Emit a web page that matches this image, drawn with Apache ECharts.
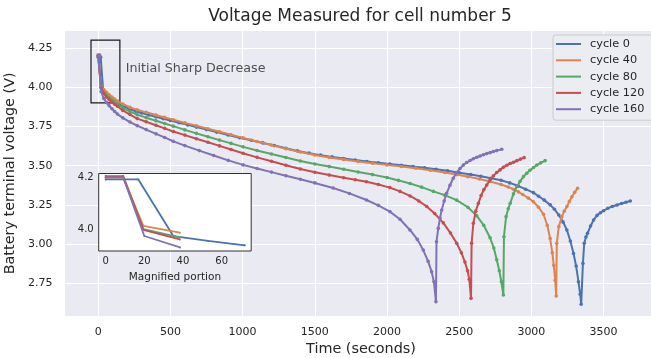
<!DOCTYPE html>
<html><head><meta charset="utf-8">
<script src="https://cdn.jsdelivr.net/npm/echarts@6/dist/echarts.min.js"></script>
<style>html,body{margin:0;padding:0;background:#fff}#c{width:651px;height:358px}</style>
</head><body><div id="c"></div>
<script>
const FONT = 'DejaVu Sans';
const TEXT = '#262626';

const seriesNames = ['cycle 0', 'cycle 40', 'cycle 80', 'cycle 120', 'cycle 160'];
const colors = ['#4C72B0', '#DD8452', '#55A868', '#C44E52', '#8172B3'];

// cycle 0
const t0 = [0, 16.9, 35, 53, 72, 90, 109, 128, 150, 180, 220, 260, 300, 350, 400, 450, 500, 560, 620, 680, 750, 820, 900, 980, 1060, 1140, 1220, 1300, 1380, 1460, 1540, 1620, 1700, 1780, 1860, 1940, 2020, 2100, 2180, 2260, 2340, 2420, 2500, 2580, 2650, 2720, 2790, 2850, 2910, 2960, 3014, 3050, 3090, 3130, 3160, 3190, 3220, 3246, 3270, 3292, 3310, 3326, 3338, 3345, 3357, 3366, 3378, 3389, 3410, 3431, 3455, 3478, 3500, 3530, 3560, 3593, 3625, 3655, 3685];
const v0 = [4.192, 4.192, 3.973, 3.954, 3.937, 3.924, 3.912, 3.901, 3.89, 3.876, 3.86, 3.847, 3.836, 3.823, 3.811, 3.799, 3.788, 3.774, 3.76, 3.746, 3.73, 3.714, 3.696, 3.678, 3.662, 3.645, 3.628, 3.611, 3.594, 3.58, 3.567, 3.556, 3.546, 3.536, 3.527, 3.518, 3.51, 3.502, 3.494, 3.486, 3.477, 3.467, 3.455, 3.443, 3.432, 3.42, 3.407, 3.39, 3.37, 3.35, 3.328, 3.305, 3.28, 3.25, 3.222, 3.185, 3.14, 3.09, 3.02, 2.94, 2.86, 2.76, 2.68, 2.616, 2.877, 3.005, 3.045, 3.069, 3.115, 3.154, 3.183, 3.2, 3.213, 3.228, 3.24, 3.249, 3.259, 3.267, 3.275];

// cycle 40
const t40 = [0, 9.1, 19.5, 38.4, 57, 76, 95, 114, 133, 170, 220, 270, 332, 400, 460, 520, 600, 680, 760, 840, 920, 1003, 1100, 1200, 1300, 1400, 1500, 1600, 1700, 1800, 1900, 2000, 2100, 2200, 2300, 2400, 2483, 2560, 2640, 2714, 2790, 2840, 2876, 2910, 2940, 2980, 3014, 3050, 3084, 3110, 3130, 3145, 3155, 3165, 3172, 3176, 3190, 3211, 3228, 3246, 3263, 3281, 3300, 3320];
const v40 = [4.20, 4.20, 4.012, 3.986, 3.968, 3.952, 3.937, 3.924, 3.912, 3.893, 3.872, 3.856, 3.84, 3.823, 3.808, 3.793, 3.773, 3.754, 3.735, 3.716, 3.697, 3.677, 3.654, 3.631, 3.608, 3.587, 3.568, 3.552, 3.539, 3.527, 3.516, 3.505, 3.495, 3.484, 3.471, 3.456, 3.443, 3.43, 3.415, 3.399, 3.38, 3.364, 3.35, 3.333, 3.316, 3.293, 3.27, 3.235, 3.19, 3.12, 3.035, 2.945, 2.865, 2.77, 2.669, 3.005, 3.111, 3.175, 3.21, 3.239, 3.272, 3.302, 3.33, 3.356];

// cycle 80
const t80 = [0, 9.1, 19.5, 38.4, 57, 76, 95, 114, 133, 170, 220, 270, 332, 400, 460, 520, 600, 680, 760, 840, 920, 1003, 1100, 1200, 1300, 1400, 1500, 1600, 1700, 1800, 1900, 2000, 2080, 2160, 2240, 2321, 2400, 2483, 2560, 2622, 2670, 2714, 2740, 2760, 2778, 2792, 2806, 2810, 2825, 2840, 2853, 2876, 2899, 2922, 2945, 2968, 2990, 3015, 3038, 3065, 3095];
const v80 = [4.20, 4.20, 4.0, 3.968, 3.948, 3.932, 3.918, 3.905, 3.893, 3.868, 3.845, 3.825, 3.806, 3.786, 3.769, 3.752, 3.728, 3.706, 3.684, 3.663, 3.642, 3.62, 3.597, 3.574, 3.552, 3.53, 3.511, 3.494, 3.477, 3.46, 3.443, 3.424, 3.406, 3.386, 3.363, 3.336, 3.312, 3.28, 3.235, 3.18, 3.12, 3.04, 2.975, 2.9, 2.83, 2.76, 2.675, 3.047, 3.175, 3.225, 3.26, 3.32, 3.366, 3.4, 3.43, 3.452, 3.47, 3.488, 3.504, 3.518, 3.532];

// cycle 120
const t120 = [0, 9.1, 19.5, 38.4, 57, 76, 95, 114, 133, 170, 220, 270, 332, 400, 460, 520, 600, 680, 760, 840, 920, 1003, 1100, 1200, 1300, 1400, 1500, 1600, 1700, 1780, 1858, 1940, 2020, 2090, 2160, 2220, 2275, 2330, 2390, 2440, 2483, 2515, 2540, 2558, 2570, 2582, 2586, 2598, 2615, 2633, 2652, 2671, 2691, 2714, 2737, 2760, 2783, 2806, 2830, 2853, 2876, 2900, 2925, 2950];
const v120 = [4.205, 4.205, 3.997, 3.96, 3.938, 3.92, 3.905, 3.892, 3.879, 3.852, 3.826, 3.8, 3.78, 3.758, 3.738, 3.718, 3.695, 3.672, 3.649, 3.626, 3.603, 3.579, 3.553, 3.528, 3.503, 3.479, 3.458, 3.44, 3.423, 3.41, 3.397, 3.38, 3.36, 3.336, 3.307, 3.275, 3.24, 3.195, 3.135, 3.07, 3.005, 2.945, 2.885, 2.83, 2.775, 2.654, 3.005, 3.133, 3.21, 3.26, 3.31, 3.347, 3.377, 3.41, 3.435, 3.456, 3.473, 3.49, 3.503, 3.514, 3.522, 3.532, 3.542, 3.551];

// cycle 160
const t160 = [0, 9.1, 20, 38.5, 57, 76, 95, 114, 133, 170, 220, 270, 332, 400, 460, 520, 600, 700, 800, 900, 1003, 1100, 1200, 1300, 1400, 1500, 1627, 1740, 1858, 1940, 2020, 2090, 2159, 2210, 2251, 2285, 2309, 2325, 2339, 2343, 2355, 2367, 2379, 2396, 2413, 2436, 2459, 2483, 2506, 2529, 2552, 2575, 2598, 2622, 2645, 2668, 2691, 2714, 2737, 2760, 2795];
const v160 = [4.20, 4.20, 3.973, 3.929, 3.902, 3.882, 3.863, 3.845, 3.829, 3.805, 3.778, 3.755, 3.73, 3.703, 3.68, 3.655, 3.628, 3.596, 3.565, 3.534, 3.505, 3.482, 3.459, 3.436, 3.413, 3.39, 3.358, 3.323, 3.281, 3.247, 3.207, 3.158, 3.09, 3.03, 2.962, 2.89, 2.824, 2.76, 2.633, 3.015, 3.1, 3.165, 3.217, 3.275, 3.324, 3.375, 3.42, 3.456, 3.482, 3.504, 3.52, 3.533, 3.544, 3.554, 3.562, 3.57, 3.577, 3.583, 3.59, 3.596, 3.605];

// number of leading points shown in the magnified inset
const insetCounts = [5, 4, 4, 4, 4];

// tick labels
const xTicks = [0, 500, 1000, 1500, 2000, 2500, 3000, 3500];
const yTicks = [2.75, 3.00, 3.25, 3.50, 3.75, 4.00, 4.25];
const insetXTicks = [0, 20, 40, 60];
const insetYTicks = [4.0, 4.2];

// annotation
const annText = 'Initial Sharp Decrease';
const annAnchor = [190, 4.12];
const boxCorners = [[-50, 3.9], [150, 4.3]];

const allT = [t0, t40, t80, t120, t160];
const allV = [v0, v40, v80, v120, v160];
const pairs = (t, v) => t.map((x, i) => [x, v[i]]);
const near = (list, v, eps) => list.find(k => Math.abs(k - v) < eps);

const series = [];
seriesNames.forEach((name, i) => {
  series.push({
    name, type: 'line', xAxisIndex: 0, yAxisIndex: 0,
    data: pairs(allT[i], allV[i]),
    symbol: 'circle', symbolSize: 3.6, showSymbol: true, showAllSymbol: true,
    lineStyle: {width: 2, color: colors[i]},
    itemStyle: {color: colors[i]},
    z: 2 + i * 0.01
  });
});
series.push({
  type: 'scatter', xAxisIndex: 0, yAxisIndex: 0, silent: true,
  data: [annAnchor], symbolSize: 0,
  label: {show: true, position: 'right', distance: 0, formatter: annText,
    fontFamily: FONT, fontSize: 12.7, color: TEXT},
  markArea: {silent: true,
    itemStyle: {color: 'rgba(0,0,0,0)', borderColor: '#1a1a1a', borderWidth: 1.2},
    data: [[{coord: boxCorners[0]}, {coord: boxCorners[1]}]]},
  z: 1
});
seriesNames.forEach((name, i) => {
  const n = insetCounts[i];
  series.push({
    type: 'line', xAxisIndex: 1, yAxisIndex: 1, silent: true,
    data: pairs(allT[i].slice(0, n), allV[i].slice(0, n)),
    symbol: 'circle', symbolSize: 2, showSymbol: true,
    lineStyle: {width: 1.8, color: colors[i]},
    itemStyle: {color: colors[i]},
    z: 10 + i * 0.01
  });
});

const chart = echarts.init(document.getElementById('c'), null, {renderer: 'canvas', width: 651, height: 358});
chart.setOption({
  animation: false,
  backgroundColor: '#ffffff',
  textStyle: {fontFamily: FONT},
  title: {
    text: 'Voltage Measured for cell number 5',
    left: 360, top: 8.5, padding: 0, textAlign: 'center',
    textStyle: {fontFamily: FONT, fontSize: 17, fontWeight: 'normal', color: TEXT}
  },
  legend: {
    data: seriesNames, orient: 'vertical', left: 553, top: 35,
    icon: 'rect', itemWidth: 25, itemHeight: 2, itemGap: 4.3,
    padding: [3, 14, 5, 3],
    backgroundColor: '#ECECF3', borderColor: '#CCCCCC', borderWidth: 1, borderRadius: 3,
    textStyle: {fontFamily: FONT, fontSize: 11.3, color: TEXT, lineHeight: 12, padding: [0, 0, 0, 4]},
    z: 20
  },
  grid: [
    {left: 64, top: 30, width: 594, height: 286.7, show: true, backgroundColor: '#EAEAF2',
     borderWidth: 0, containLabel: false, outerBoundsMode: 'none'},
    {left: 98.7, top: 173.5, width: 152.5, height: 77.5, show: true, backgroundColor: '#ffffff',
     borderColor: '#333333', borderWidth: 1, containLabel: false, outerBoundsMode: 'none', z: 5}
  ],
  xAxis: [
    {type: 'value', gridIndex: 0, min: -237, max: 3877, splitNumber: 8, minInterval: 500, maxInterval: 500,
     axisLine: {show: false}, axisTick: {show: false},
     splitLine: {show: true, lineStyle: {color: '#ffffff', width: 1}},
     axisLabel: {margin: 9.5, fontFamily: FONT, fontSize: 11, color: TEXT,
       formatter: v => (near(xTicks, v, 1e-6) !== undefined ? String(near(xTicks, v, 1e-6)) : '')},
     name: 'Time (seconds)', nameLocation: 'middle', nameGap: 26,
     nameTextStyle: {fontFamily: FONT, fontSize: 14.4, color: TEXT}},
    {type: 'value', gridIndex: 1, min: -3.6, max: 75.3, splitNumber: 4, minInterval: 20, maxInterval: 20,
     axisLine: {show: false}, axisTick: {show: false}, splitLine: {show: false},
     axisLabel: {margin: 5, fontFamily: FONT, fontSize: 10, color: TEXT,
       formatter: v => (near(insetXTicks, v, 1e-6) !== undefined ? String(near(insetXTicks, v, 1e-6)) : '')},
     name: 'Magnified portion', nameLocation: 'middle', nameGap: 20.5,
     nameTextStyle: {fontFamily: FONT, fontSize: 10.5, color: TEXT}, z: 6}
  ],
  yAxis: [
    {type: 'value', gridIndex: 0, min: 2.537, max: 4.365, splitNumber: 7, minInterval: 0.25, maxInterval: 0.25,
     axisLine: {show: false}, axisTick: {show: false},
     splitLine: {show: true, lineStyle: {color: '#ffffff', width: 1}},
     axisLabel: {margin: 11.5, fontFamily: FONT, fontSize: 11, color: TEXT,
       formatter: v => (near(yTicks, v, 1e-6) !== undefined ? near(yTicks, v, 1e-6).toFixed(2) : '')},
     name: 'Battery terminal voltage (V)', nameLocation: 'middle', nameGap: 42.5,
     nameTextStyle: {fontFamily: FONT, fontSize: 14.4, color: TEXT}},
    {type: 'value', gridIndex: 1, min: 3.915, max: 4.215, splitNumber: 2, minInterval: 0.2, maxInterval: 0.2,
     axisLine: {show: false}, axisTick: {show: false}, splitLine: {show: false},
     axisLabel: {margin: 5, fontFamily: FONT, fontSize: 10, color: TEXT,
       formatter: v => (near(insetYTicks, v, 1e-6) !== undefined ? near(insetYTicks, v, 1e-6).toFixed(1) : '')},
     z: 6}
  ],
  series
});
</script></body></html>
